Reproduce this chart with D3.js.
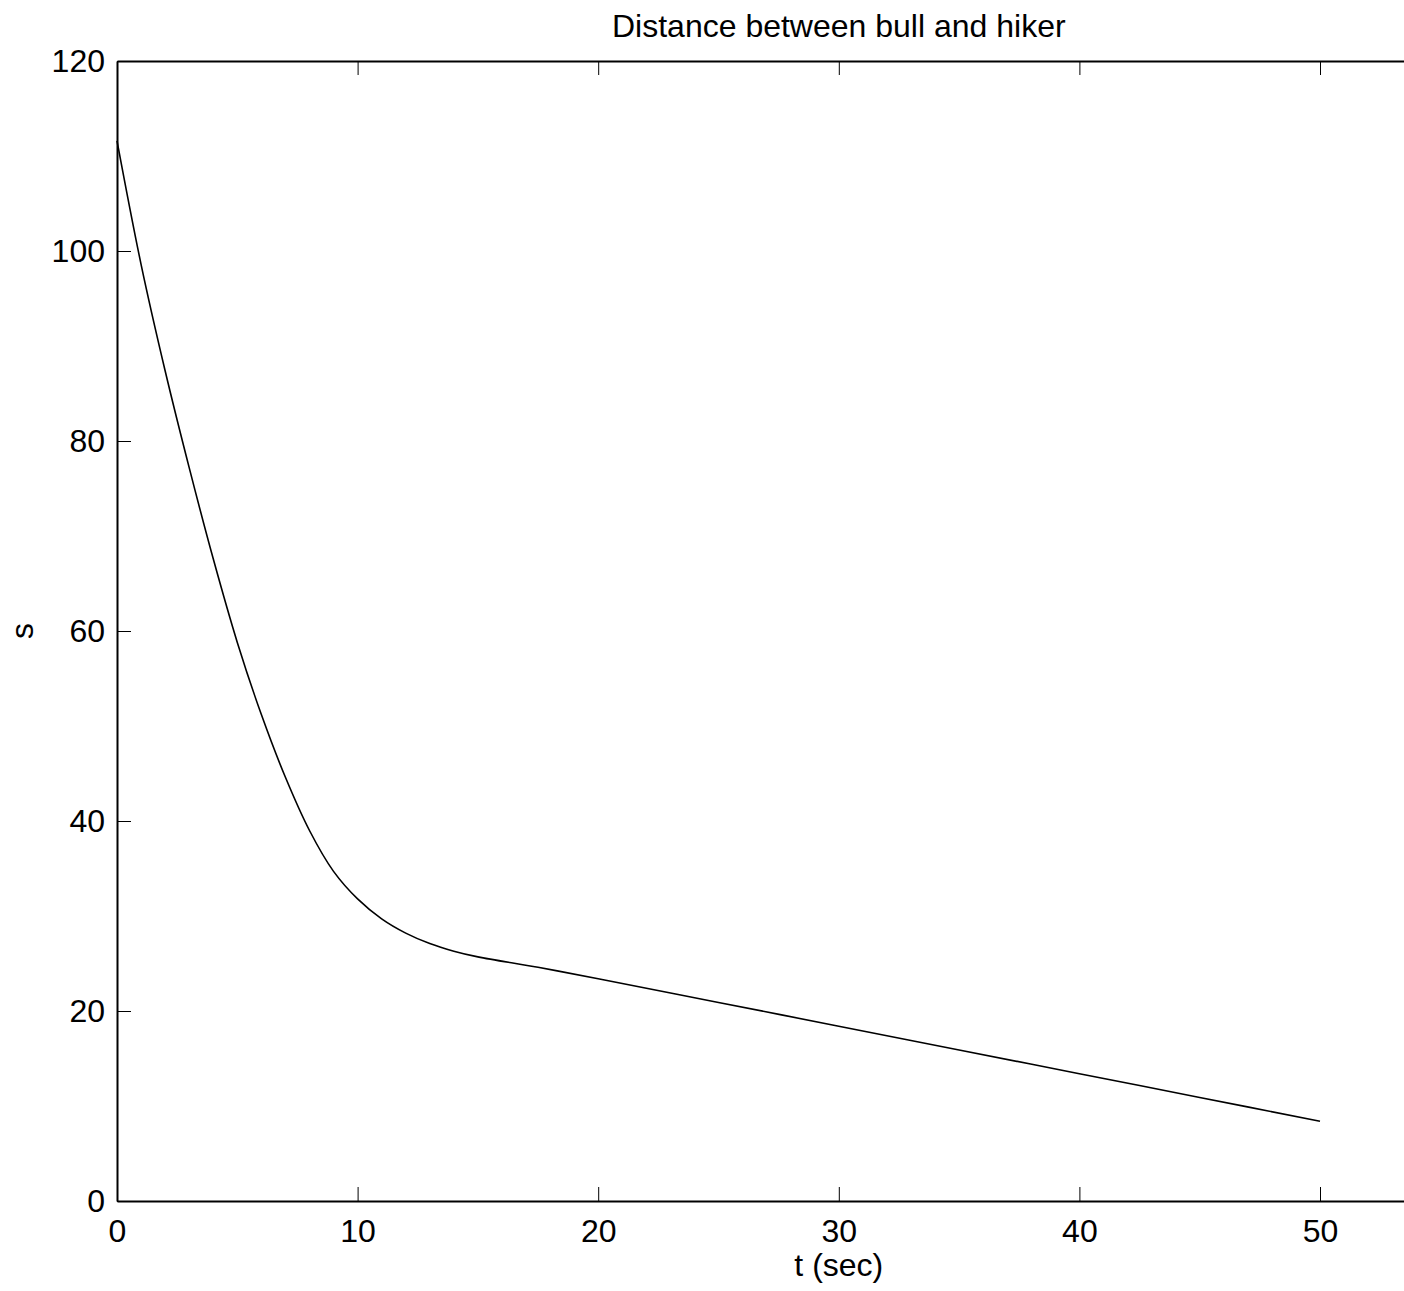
<html>
  <head>
    <script src="https://d3js.org/d3.v7.min.js"></script>
    <style>
      body {
        margin: 0;
        background: white;
      }
      text {
        font-family: "Liberation Sans", Arial, sans-serif;
        fill: black;
      }
    </style>
  </head>

  <body>
    <svg id="svg1" width="1404" height="1291"></svg>

    <script>
      // values
      let tValues = [0, 1, 2, 3, 4, 5, 6, 7, 8, 9, 10, 11, 12, 13, 14, 15, 17.5, 20, 25, 30, 35, 40, 45, 50];
      let sValues = [111.6, 98.6, 87.4, 77.2, 67.6, 58.8, 51.2, 44.6, 39.0, 34.7, 31.8, 29.7, 28.2, 27.1, 26.3, 25.7, 24.6, 23.4, 20.9, 18.4, 15.9, 13.4, 10.9, 8.4];
      let xTicks = [0, 10, 20, 30, 40, 50, 60];
      let yTicks = [0, 20, 40, 60, 80, 100, 120];
      let titleText = "Distance between bull and hiker";
      let xLabel = "t (sec)";
      let yLabel = "s";

      let data = tValues.map((t, i) => ({ t: t, s: sValues[i] }));
      let W = 1404;

      svg = d3.select("svg#svg1");

      // x axis runs to 60, the picture is cut at 1404px
      xScale = d3.scaleLinear().domain([0, 60]).range([117, 1560.6]);
      yScale = d3.scaleLinear().domain([0, 120]).range([1201, 61]);

      let fontSize = 32;

      // bottom axis, ticks pointing inward
      let xAxis = svg
        .append("g")
        .attr("transform", "translate(0,1201)")
        .call(d3.axisBottom(xScale).tickValues(xTicks).tickSizeInner(-14).tickSizeOuter(0).tickPadding(18));
      xAxis.select(".domain").attr("stroke-width", 2);
      xAxis.selectAll("text").attr("font-size", fontSize).attr("font-family", "Liberation Sans");
      // labels past the cut edge are not shown
      xAxis.selectAll(".tick").filter((d) => xScale(d) > W).select("text").remove();

      // top axis, just ticks
      let xTop = svg
        .append("g")
        .attr("transform", "translate(0,61)")
        .call(d3.axisTop(xScale).tickValues(xTicks).tickSizeInner(-14).tickSizeOuter(0).tickFormat(""));
      xTop.select(".domain").attr("stroke-width", 2);

      // left axis
      let yAxis = svg
        .append("g")
        .attr("transform", "translate(117,0)")
        .call(d3.axisLeft(yScale).tickValues(yTicks).tickSizeInner(-14).tickSizeOuter(0).tickPadding(12));
      yAxis.select(".domain").attr("stroke-width", 2);
      yAxis.selectAll("text").attr("font-size", fontSize).attr("font-family", "Liberation Sans");

      let line = d3
        .line()
        .x((d) => xScale(d.t))
        .y((d) => yScale(d.s))
        .curve(d3.curveCatmullRom.alpha(0.5));

      svg
        .append("path")
        .datum(data)
        .attr("d", line)
        .attr("fill", "none")
        .attr("stroke", "black")
        .attr("stroke-width", 1.6);

      // title and labels, centred on the full axis
      svg
        .append("text")
        .attr("x", xScale(30))
        .attr("y", 37)
        .attr("text-anchor", "middle")
        .attr("font-size", fontSize)
        .text(titleText);

      svg
        .append("text")
        .attr("x", xScale(30))
        .attr("y", 1276)
        .attr("text-anchor", "middle")
        .attr("font-size", fontSize)
        .text(xLabel);

      svg
        .append("text")
        .attr("transform", "translate(33," + yScale(60) + ") rotate(-90)")
        .attr("text-anchor", "middle")
        .attr("font-size", fontSize)
        .text(yLabel);
    </script>
  </body>
</html>
